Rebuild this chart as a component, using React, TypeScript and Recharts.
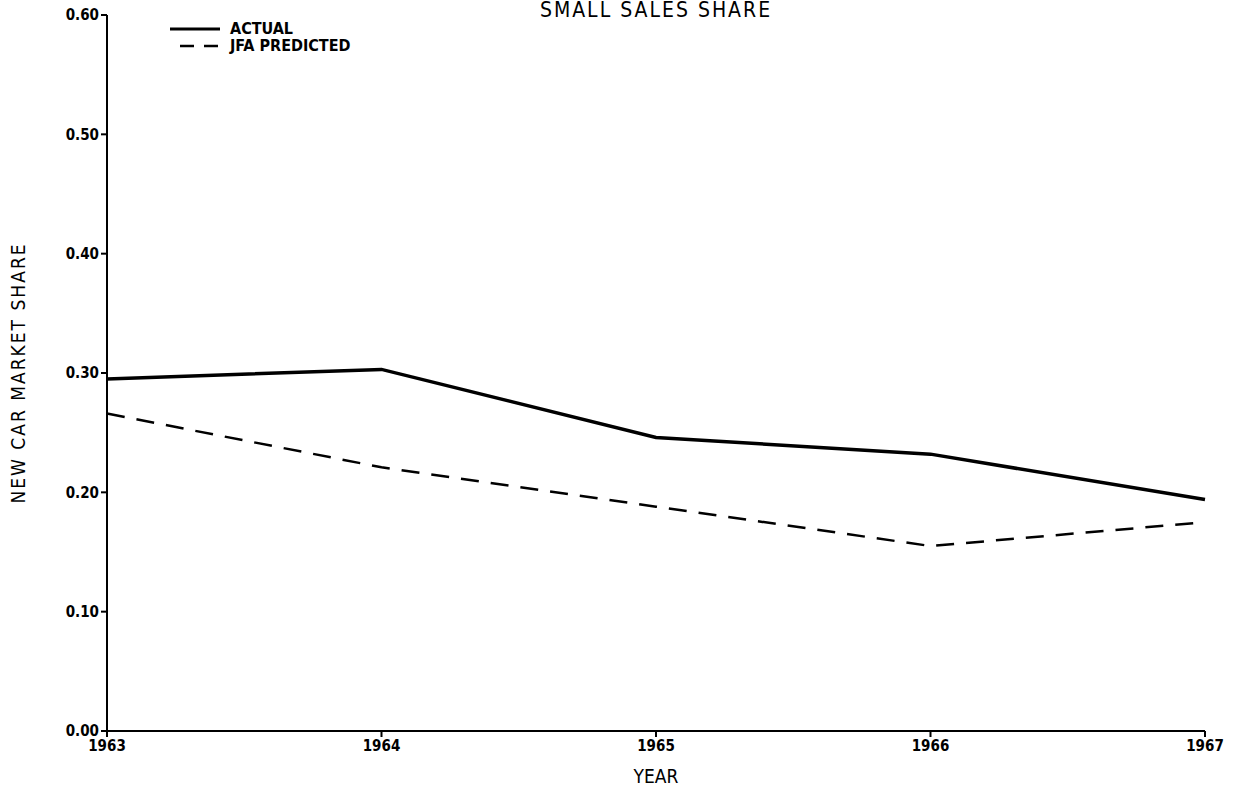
import React from 'react';
import { LineChart, Line, XAxis, YAxis, Label } from 'recharts';

const years = [1963, 1964, 1965, 1966, 1967];
const actual = [0.295, 0.303, 0.246, 0.232, 0.194];
const jfaPredicted = [0.266, 0.221, 0.188, 0.155, 0.175];
const yTicks = [0, 0.1, 0.2, 0.3, 0.4, 0.5, 0.6];

const FONT = '"DejaVu Sans Condensed", "DejaVu Sans", sans-serif';

const data = years.map((year, i) => ({
  year,
  actual: actual[i],
  predicted: jfaPredicted[i],
}));

// legend drawn as html, outside the chart so it doesn't shift the plot area
const LegendBox = () => (
  <div
    style={{
      position: 'absolute',
      left: 166,
      top: 20,
      fontFamily: FONT,
      fontWeight: 'bold',
      fontSize: 16,
      color: '#000',
      lineHeight: '17px',
    }}
  >
    <div style={{ display: 'flex', alignItems: 'center' }}>
      <svg width={58} height={14}>
        <line x1={4} y1={7} x2={54} y2={7} stroke="#000" strokeWidth={3} />
      </svg>
      <span style={{ marginLeft: 6 }}>ACTUAL</span>
    </div>
    <div style={{ display: 'flex', alignItems: 'center' }}>
      <svg width={58} height={14}>
        <line x1={14} y1={7} x2={54} y2={7} stroke="#000" strokeWidth={2.5} strokeDasharray="14 10" />
      </svg>
      <span style={{ marginLeft: 6 }}>JFA PREDICTED</span>
    </div>
  </div>
);

const App = () => {
  return (
    <div style={{ position: 'absolute', left: 0, top: 0, width: 1239, height: 791, background: '#fff' }}>
      <LineChart
        width={1239}
        height={791}
        data={data}
        margin={{ top: 15, right: 34, bottom: 0, left: 40 }}
      >
        <XAxis
          dataKey="year"
          type="number"
          domain={[1963, 1967]}
          ticks={years}
          axisLine={{ stroke: '#000', strokeWidth: 2 }}
          tickLine={{ stroke: '#000', strokeWidth: 2 }}
          tickSize={6}
          tick={{ fill: '#000', fontFamily: FONT, fontWeight: 'bold', fontSize: 15 }}
          tickMargin={3}
          height={60}
        >
          <Label
            value="YEAR"
            position="insideBottom"
            offset={8}
            style={{ fill: '#000', fontFamily: FONT, fontSize: 19 }}
          />
        </XAxis>
        <YAxis
          type="number"
          domain={[0, 0.6]}
          ticks={yTicks}
          tickFormatter={(v: number) => v.toFixed(2)}
          axisLine={{ stroke: '#000', strokeWidth: 2 }}
          tickLine={{ stroke: '#000', strokeWidth: 2 }}
          tickSize={6}
          tickMargin={2}
          tick={{ fill: '#000', fontFamily: FONT, fontWeight: 'bold', fontSize: 15 }}
          width={67}
        >
          <Label
            value="NEW CAR MARKET SHARE"
            angle={-90}
            position="insideLeft"
            offset={-22}
            style={{ fill: '#000', fontFamily: FONT, fontSize: 19, letterSpacing: 2, textAnchor: 'middle' }}
          />
        </YAxis>
        <Line
          dataKey="actual"
          stroke="#000"
          strokeWidth={3.5}
          dot={false}
          isAnimationActive={false}
        />
        <Line
          dataKey="predicted"
          stroke="#000"
          strokeWidth={2.5}
          strokeDasharray="18 12"
          dot={false}
          isAnimationActive={false}
        />
      </LineChart>
      <div
        style={{
          position: 'absolute',
          left: 0,
          width: 1312,
          top: -1,
          textAlign: 'center',
          fontFamily: FONT,
          fontSize: 21,
          lineHeight: '22px',
          letterSpacing: 2,
          color: '#000',
        }}
      >
        SMALL SALES SHARE
      </div>
      <LegendBox />
    </div>
  );
};

export default App;
